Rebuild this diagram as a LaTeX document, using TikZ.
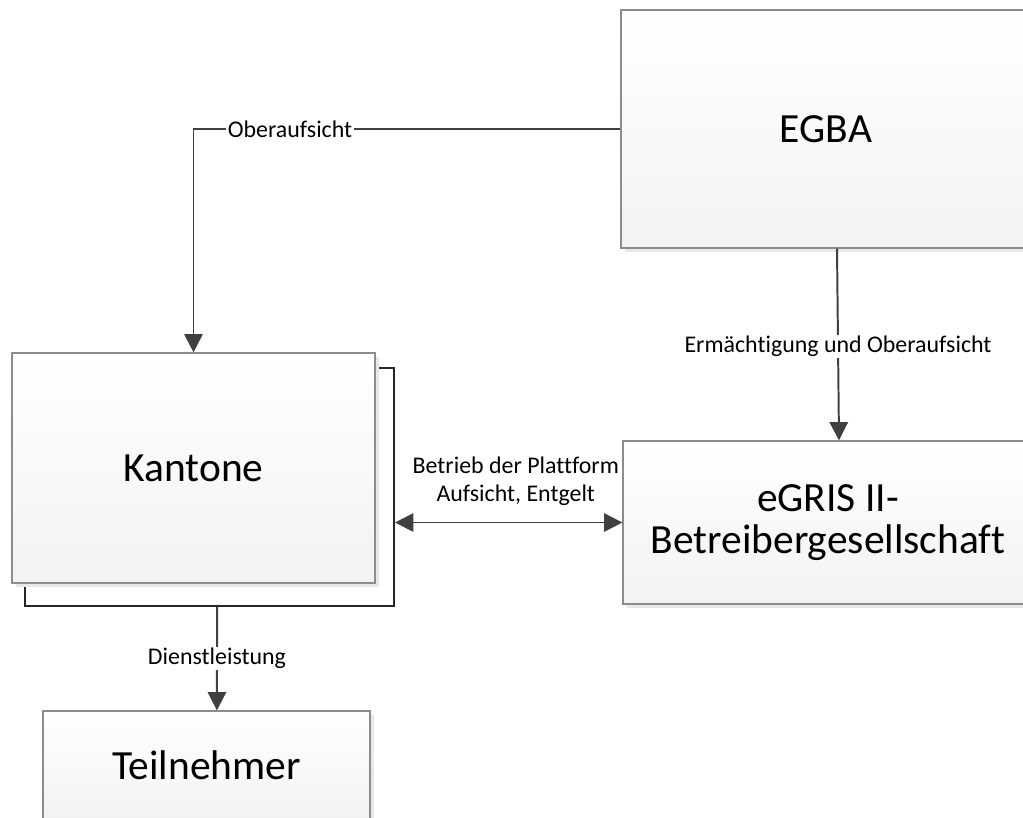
\documentclass[tikz,border=0pt]{standalone}
\usepackage{fontspec}
\setmainfont{Carlito}[Ligatures=NoCommon]
\usepackage{tikz}
\usetikzlibrary{calc,positioning,arrows.meta,shadows}

\definecolor{linegray}{HTML}{404040}
\definecolor{boxgray}{HTML}{8C8C8C}

\begin{document}
\begin{tikzpicture}[
                x=0.025cm, y=-0.025cm,
                box/.style={rectangle,draw=boxgray,line width=0.8pt,top color=white,bottom color=black!5,
                            drop shadow={shadow xshift=2.6pt,shadow yshift=-2.6pt,fill=black!9,opacity=1},
                            font=\fontsize{29.5}{29.5}\selectfont,align=center,inner sep=0pt},
                backbox/.style={rectangle,draw=black!85,line width=1.4pt,fill=white,inner sep=0pt},
                arr/.style={draw=linegray,line width=1.4pt,-{Triangle[length=13pt,width=13pt]}},
                darr/.style={draw=linegray,line width=1.4pt,{Triangle[length=13pt,width=13pt]}-{Triangle[length=13pt,width=13pt]}},
                lbl/.style={fill=white,inner sep=1pt,font=\fontsize{17}{20}\selectfont,align=center}
            ]
                \useasboundingbox (0,0) rectangle (1023,817);
                \clip (0,0) rectangle (1023,817);

                % boxes
                \node[box,minimum width=10.25cm,minimum height=5.95cm] (egba) at (826,129) {EGBA};
                \node[backbox,minimum width=9.225cm,minimum height=5.95cm] (kback) at (209.5,487) {};
                \node[box,minimum width=9.075cm,minimum height=5.75cm] (kant) at (193.5,468) {Kantone};
                \node[box,minimum width=10.25cm,minimum height=4.075cm] (egris) at (828,522.5) {eGRIS II-\\Betreibergesellschaft};
                \node[box,minimum width=8.175cm,minimum height=2.7cm] (tn) at (206.5,765) {Teilnehmer};

                % connectors
                \draw[arr] (egba.west) -| (kant.north)
                    node[lbl,pos=0.387] {Oberaufsicht};
                \draw[arr] ([xshift=0.275cm]egba.south) -- ([xshift=0.275cm]egris.north)
                    node[lbl,pos=0.51] {Ermächtigung und Oberaufsicht};
                \draw[darr] (kback.east |- egris.west) -- (egris.west)
                    node[lbl,midway,above=10pt,xshift=5pt,fill=none] {Betrieb der Plattform\\Aufsicht, Entgelt};
                \draw[arr] ([xshift=0.19cm]kback.south) -- ([xshift=0.26cm]tn.north)
                    node[lbl,pos=0.5] {Dienstleistung};
            \end{tikzpicture}
\end{document}
